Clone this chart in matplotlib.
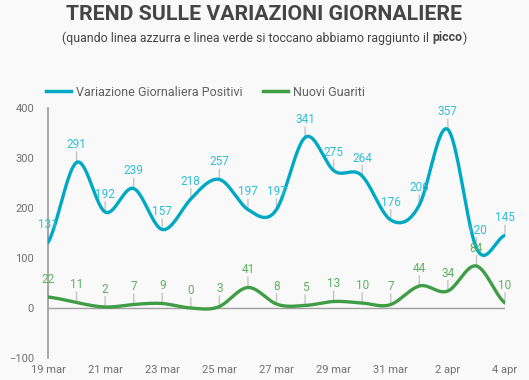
import numpy as np
import matplotlib.pyplot as plt

days = ["19 mar", "20 mar", "21 mar", "22 mar", "23 mar", "24 mar", "25 mar", "26 mar",
        "27 mar", "28 mar", "29 mar", "30 mar", "31 mar", "1 apr", "2 apr", "3 apr", "4 apr"]
positivi = [131, 291, 192, 239, 157, 218, 257, 197, 197, 341, 275, 264, 176, 206, 357, 120, 145]
guariti = [22, 11, 2, 7, 9, 0, 3, 41, 8, 5, 13, 10, 7, 44, 34, 84, 10]

blue = "#00a9c3"
blue_lbl = "#2fc0d6"
green = "#3f9e45"
green_lbl = "#5cb25f"
bg = "#f9f9f9"

plt.rcParams['font.family'] = ['Roboto', 'DejaVu Sans']


# cubic bezier smoothing (like the android chart lib, intensity 0.2)
def smooth(y, n=40):
    y = np.asarray(y, dtype=float)
    k = len(y)
    m = np.zeros(k)
    for i in range(k):
        prev = y[max(i - 1, 0)]
        nxt = y[min(i + 1, k - 1)]
        m[i] = 0.6 * (nxt - prev)
    xs, ys = [], []
    t = np.linspace(0, 1, n)
    for i in range(k - 1):
        h00 = 2 * t**3 - 3 * t**2 + 1
        h10 = t**3 - 2 * t**2 + t
        h01 = -2 * t**3 + 3 * t**2
        h11 = t**3 - t**2
        xs.append(i + t)
        ys.append(h00 * y[i] + h10 * m[i] + h01 * y[i + 1] + h11 * m[i + 1])
    return np.concatenate(xs), np.concatenate(ys)


fig = plt.figure(figsize=(5.29, 3.8), dpi=100, facecolor=bg)
ax = fig.add_axes([48 / 529, 1 - 358 / 380, 457 / 529, 250 / 380])
ax.set_facecolor(bg)

x = np.arange(len(days))
ax.axhline(0, color="#a0a0a0", lw=1, zorder=1)

for vals, col, lcol in [(positivi, blue, blue_lbl), (guariti, green, green_lbl)]:
    sx, sy = smooth(vals)
    ax.plot(sx, sy, color=col, lw=2.4, zorder=3, solid_capstyle="round")
    for xi, v in zip(x, vals):
        ax.annotate("", xy=(xi, v), xytext=(0, 7.5), textcoords="offset points",
                    arrowprops=dict(arrowstyle="-", color="#c4c4c4", lw=1, shrinkA=0, shrinkB=0),
                    zorder=2)
        ax.annotate(str(v), xy=(xi, v), xytext=(0, 8), textcoords="offset points",
                    ha="center", va="bottom", fontsize=8.5, color=lcol, zorder=4)

ax.set_xlim(0, len(days) - 1)
ax.set_ylim(-100, 400)
ax.set_yticks([-100, 0, 100, 200, 300, 400])
ax.set_xticks(x[::2])
ax.set_xticklabels(days[::2])
ax.tick_params(axis="both", length=0, colors="#707070", labelsize=8)
ax.tick_params(axis="y", pad=10)
ax.tick_params(axis="x", pad=5)
for s in ["top", "right", "bottom"]:
    ax.spines[s].set_visible(False)
ax.spines["left"].set_color("#9a9a9a")
ax.spines["left"].set_linewidth(1.2)

fig.text(0.5, 1 - 15 / 380, "TREND SULLE VARIAZIONI GIORNALIERE", ha="center", va="center",
         fontsize=15.3, fontweight="bold", color="#454545")

# subtitle with bold word
fig.canvas.draw()
r = fig.canvas.get_renderer()
parts = [("(quando linea azzurra e linea verde si toccano abbiamo raggiunto il ", "normal"),
         ("picco", "bold"), (")", "normal")]
texts = []
for s, w in parts:
    texts.append(fig.text(0, 1 - 38 / 380, s, fontsize=8.9, fontweight=w, color="#454545",
                          va="center", ha="left"))
widths = [t.get_window_extent(r).width for t in texts]
xpos = (529 - sum(widths)) / 2
for t, w in zip(texts, widths):
    t.set_x(xpos / 529)
    xpos += w

ax.plot([], [], color=blue, lw=2.5, label="Variazione Giornaliera Positivi")
ax.plot([], [], color=green, lw=2.5, label="Nuovi Guariti")
leg = fig.legend(loc="center left", bbox_to_anchor=(46 / 529, 1 - 92 / 380), ncol=2,
                 frameon=False, fontsize=9, handlelength=2.0, handletextpad=0.4,
                 columnspacing=1.6, borderpad=0, borderaxespad=0)
for t in leg.get_texts():
    t.set_color("#606060")

fig.savefig("out.png", dpi=100, facecolor=bg)
